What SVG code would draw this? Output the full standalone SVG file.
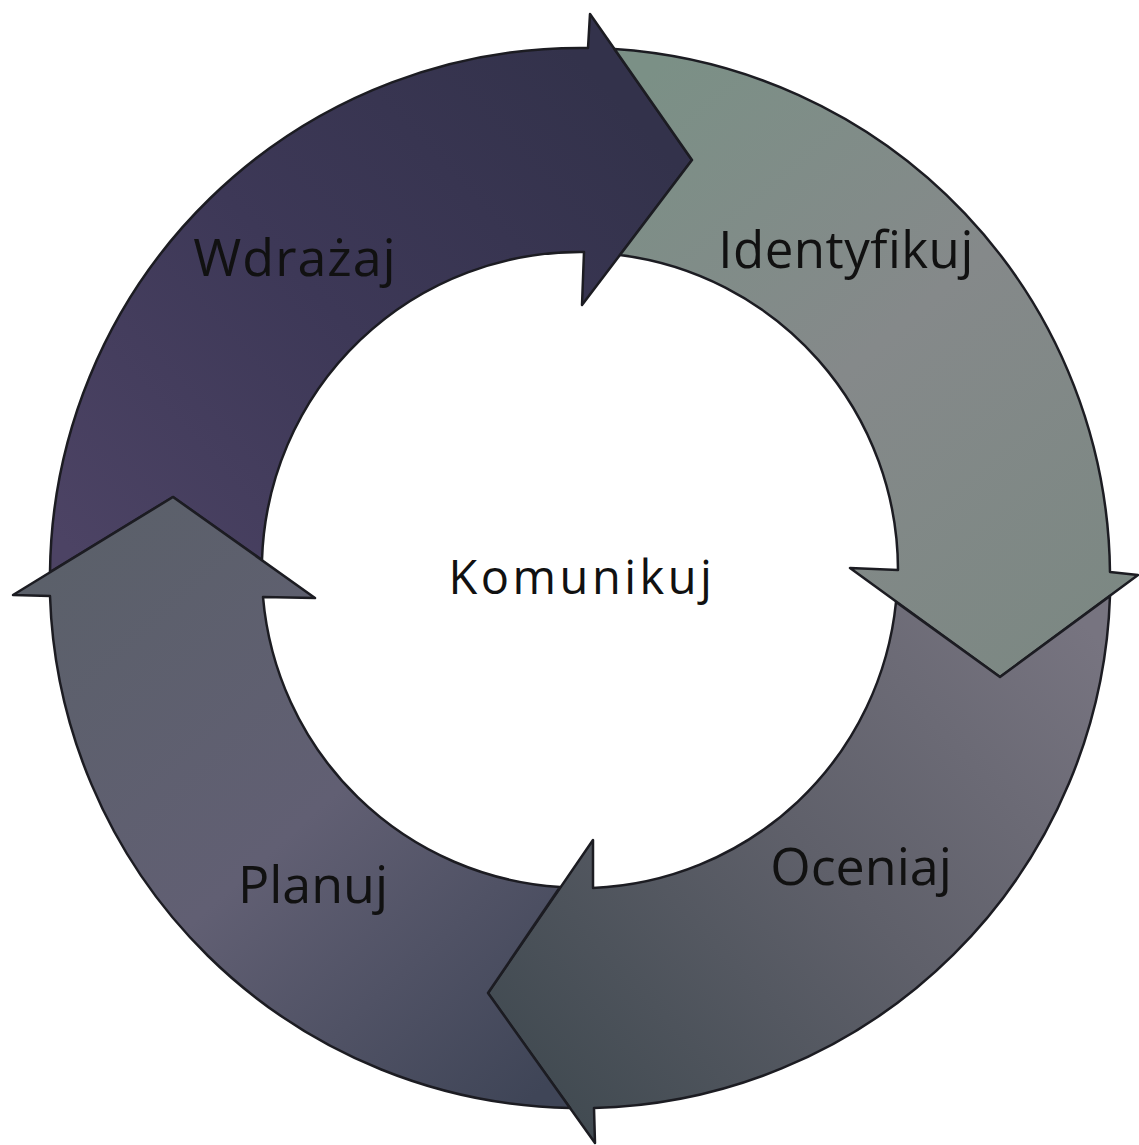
<svg xmlns="http://www.w3.org/2000/svg" width="1139" height="1145" viewBox="0 0 1139 1145">
<defs>
<linearGradient id="gW" gradientUnits="userSpaceOnUse" x1="600" y1="80" x2="80" y2="560">
<stop offset="0" stop-color="#33324b"/><stop offset="0.5" stop-color="#3d3857"/><stop offset="1" stop-color="#4c4364"/>
</linearGradient>
<linearGradient id="gI" gradientUnits="userSpaceOnUse" x1="640" y1="80" x2="1100" y2="620">
<stop offset="0" stop-color="#7b9086"/><stop offset="0.5" stop-color="#85898a"/><stop offset="1" stop-color="#7c8883"/>
</linearGradient>
<linearGradient id="gO" gradientUnits="userSpaceOnUse" x1="1080" y1="620" x2="560" y2="1100">
<stop offset="0" stop-color="#777480"/><stop offset="0.5" stop-color="#5f606a"/><stop offset="1" stop-color="#424b52"/>
</linearGradient>
<linearGradient id="gP" gradientUnits="userSpaceOnUse" x1="540" y1="1090" x2="60" y2="560">
<stop offset="0" stop-color="#3f4557"/><stop offset="0.5" stop-color="#615f73"/><stop offset="1" stop-color="#5b606a"/>
</linearGradient>
</defs>
<style>
.seg{stroke:#1c1c22;stroke-width:2.5;stroke-linejoin:round}
.lbl{font-family:"Open Sans","Noto Sans","Liberation Sans",sans-serif;fill:#111111;text-anchor:middle}
</style>
<rect width="1139" height="1145" fill="#ffffff"/>
<g id="connectors"></g>
<g id="wdrazaj">
<path class="seg" fill="url(#gW)" d="M50,572 A530,530 0 0 1 588,48 L590,14 L692,160 L582,305 L584,252 A318,318 0 0 0 262,560 L173,497 Z"/>
<text class="lbl" x="295" y="276" font-size="52" letter-spacing="1">Wdrażaj</text>
</g>
<g id="identyfikuj">
<path class="seg" fill="url(#gI)" d="M614.5,49 A530,530 0 0 1 1110,572 L1138,575 L1000,677 L850,568 L898,570 A318,318 0 0 0 620,255 L692,160 Z"/>
<text class="lbl" x="846" y="268" font-size="51" letter-spacing="0.5">Identyfikuj</text>
</g>
<g id="oceniaj">
<path class="seg" fill="url(#gO)" d="M1110,596 A530,530 0 0 1 594,1108 L595,1143 L488,993 L593,840 L593,888 A318,318 0 0 0 896,602 L1000,677 Z"/>
<text class="lbl" x="861" y="885" font-size="52">Oceniaj</text>
</g>
<g id="planuj">
<path class="seg" fill="url(#gP)" d="M570,1108 A530,530 0 0 1 50,596 L13,595 L173,497 L315,598 L263,597 A318,318 0 0 0 560,887 L488,993 Z"/>
<text class="lbl" x="313" y="903" font-size="52">Planuj</text>
</g>
<g id="komunikuj">
<text class="lbl" x="582" y="594" font-size="47" letter-spacing="3.5">Komunikuj</text>
</g>
</svg>
